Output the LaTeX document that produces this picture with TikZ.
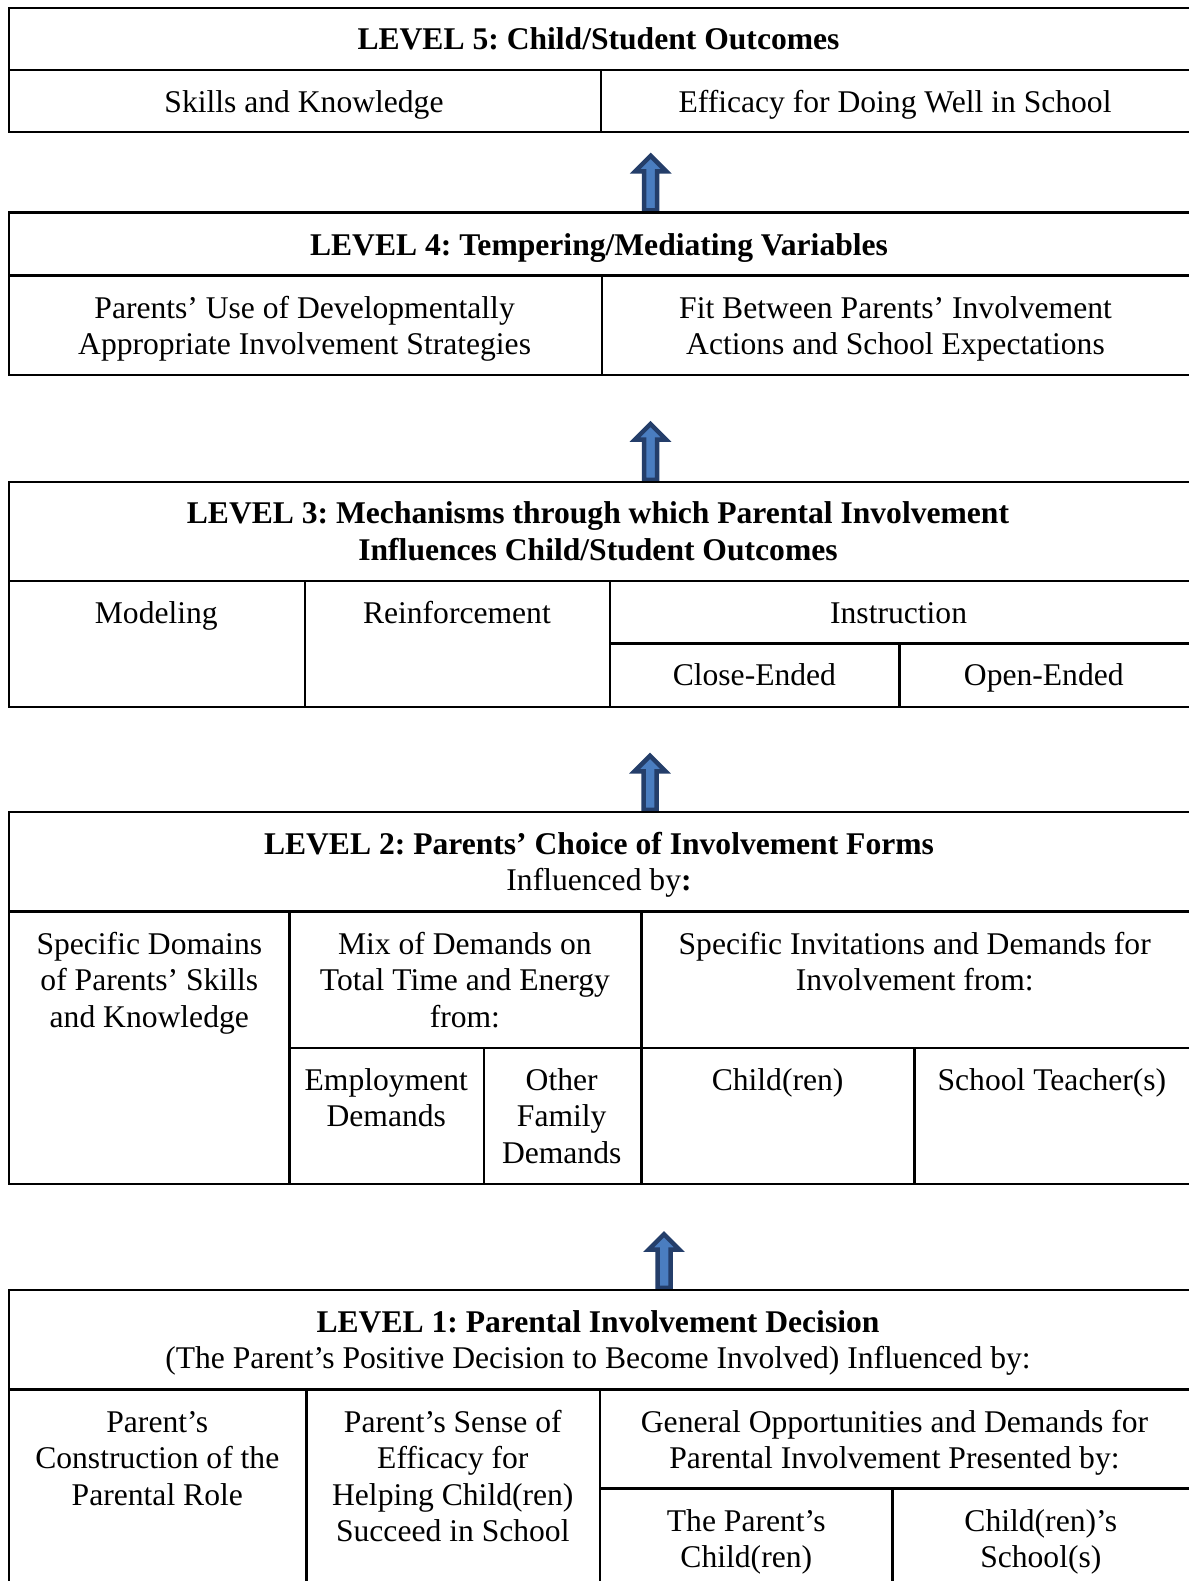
\documentclass[tikz,border=0pt]{standalone}
\usepackage{fontspec}
\setmainfont{Liberation Serif}
\frenchspacing
\definecolor{arrowdark}{RGB}{36,62,106}
\definecolor{arrowlight}{RGB}{74,125,192}
\begin{document}
\begin{tikzpicture}[x=1pt,y=-1pt,
  rule/.style={line width=2.6pt,line cap=rect},
  celltext/.style={anchor=base,align=center,inner sep=0pt,font=\fontsize{31.6}{36.3}\selectfont},
  titletext/.style={celltext,font=\fontsize{31.6}{36.3}\selectfont\bfseries},
  blockarrow/.style={draw=arrowdark,fill=arrowlight,line width=4.5pt,line join=miter}]
\useasboundingbox[fill=white] (0,0) rectangle (1188,1581);

\newcommand\upblock[3]{% x, ytip, ybottom
  \filldraw[blockarrow] (#1,#2+2.5) -- (#1+15.5,#2+18) -- (#1+6.5,#2+18) -- (#1+6.5,#3-2.2)
     -- (#1-6.5,#3-2.2) -- (#1-6.5,#2+18) -- (#1-15.5,#2+18) -- cycle;}

% ---------- LEVEL 5 ----------
\draw[rule] (1188,8) -- (9,8) -- (9,132) -- (1188,132);
\draw[rule] (9,70) -- (1188,70);
\draw[rule] (601,70) -- (601,132);
\node[titletext] (l5t) at (598.5,49.8) {LEVEL 5: Child/Student Outcomes};
\node[celltext] (l5a) at (304,112.4) {Skills and Knowledge};
\node[celltext] (l5b) at (895,112.4) {Efficacy for Doing Well in School};

\upblock{650.7}{153.3}{212.5}

% ---------- LEVEL 4 ----------
\draw[rule] (1188,212.5) -- (9,212.5) -- (9,375) -- (1188,375);
\draw[rule] (9,275.5) -- (1188,275.5);
\draw[rule] (602,275.5) -- (602,375);
\node[titletext] (l4t) at (599,255.6) {LEVEL 4: Tempering/Mediating Variables};
\node[celltext] (l4a) at (304.6,354.4) {Parents’ Use of Developmentally\\Appropriate Involvement Strategies};
\node[celltext] (l4b) at (895.5,354.4) {Fit Between Parents’ Involvement\\Actions and School Expectations};

\upblock{650.5}{421.5}{482}

% ---------- LEVEL 3 ----------
\draw[rule] (1188,482) -- (9,482) -- (9,707) -- (1188,707);
\draw[rule] (9,581) -- (1188,581);
\draw[rule] (305,581) -- (305,707);
\draw[rule] (610,581) -- (610,707);
\draw[rule] (610,643.4) -- (1188,643.4);
\draw[rule] (899.6,643.4) -- (899.6,707);
\node[titletext] (l3t) at (598,560.1) {LEVEL 3: Mechanisms through which Parental Involvement\\Influences Child/Student Outcomes};
\node[celltext] (l3a) at (156.3,623.7) {Modeling};
\node[celltext] (l3b) at (456.9,623.7) {Reinforcement};
\node[celltext] (l3c) at (898.6,623.7) {Instruction};
\node[celltext] (l3d) at (754.4,685.2) {Close-Ended};
\node[celltext] (l3e) at (1043.8,685.2) {Open-Ended};

\upblock{650}{753.3}{812}

% ---------- LEVEL 2 ----------
\draw[rule] (1188,812) -- (9,812) -- (9,1184) -- (1188,1184);
\draw[rule] (9,911.7) -- (1188,911.7);
\draw[rule] (289.4,911.7) -- (289.4,1184);
\draw[rule] (641.4,911.7) -- (641.4,1184);
\draw[rule] (289.4,1047.8) -- (1188,1047.8);
\draw[rule] (484,1047.8) -- (484,1184);
\draw[rule] (914.7,1047.8) -- (914.7,1184);
\node[titletext] (l2t) at (599,890.9) {LEVEL 2: Parents’ Choice of Involvement Forms\\\mdseries Influenced by\textbf{:}};
\node[celltext] (l2a) at (149.3,1027.1) {Specific Domains\\of Parents’ Skills\\and Knowledge};
\node[celltext] (l2b) at (464.9,1027.1) {Mix of Demands on\\Total Time and Energy\\from:};
\node[celltext] (l2c) at (914.7,990.8) {Specific Invitations and Demands for\\Involvement from:};
\node[celltext] (l2d) at (386.3,1126.9) {Employment\\Demands};
\node[celltext] (l2e) at (561.7,1163.2) {Other\\Family\\Demands};
\node[celltext] (l2f) at (777.6,1090.6) {Child(ren)};
\node[celltext] (l2g) at (1051.9,1090.6) {School Teacher(s)};

\upblock{664}{1231.7}{1290}

% ---------- LEVEL 1 ----------
\draw[rule] (1188,1290) -- (9,1290) -- (9,1590);
\draw[rule] (9,1389.7) -- (1188,1389.7);
\draw[rule] (306.6,1389.7) -- (306.6,1590);
\draw[rule] (600,1389.7) -- (600,1590);
\draw[rule] (600,1488.5) -- (1188,1488.5);
\draw[rule] (892.5,1488.5) -- (892.5,1590);
\node[titletext] (l1t) at (598,1368.9) {LEVEL 1: Parental Involvement Decision\\\mdseries (The Parent’s Positive Decision to Become Involved) Influenced by:};
\node[celltext] (l1a) at (157.3,1505.1) {Parent’s\\Construction of the\\Parental Role};
\node[celltext] (l1b) at (452.8,1541.4) {Parent’s Sense of\\Efficacy for\\Helping Child(ren)\\Succeed in School};
\node[celltext] (l1c) at (894.5,1468.8) {General Opportunities and Demands for\\Parental Involvement Presented by:};
\node[celltext] (l1d) at (746.3,1567.6) {The Parent’s\\Child(ren)};
\node[celltext] (l1e) at (1040.8,1567.6) {Child(ren)’s\\School(s)};
\end{tikzpicture}
\end{document}
